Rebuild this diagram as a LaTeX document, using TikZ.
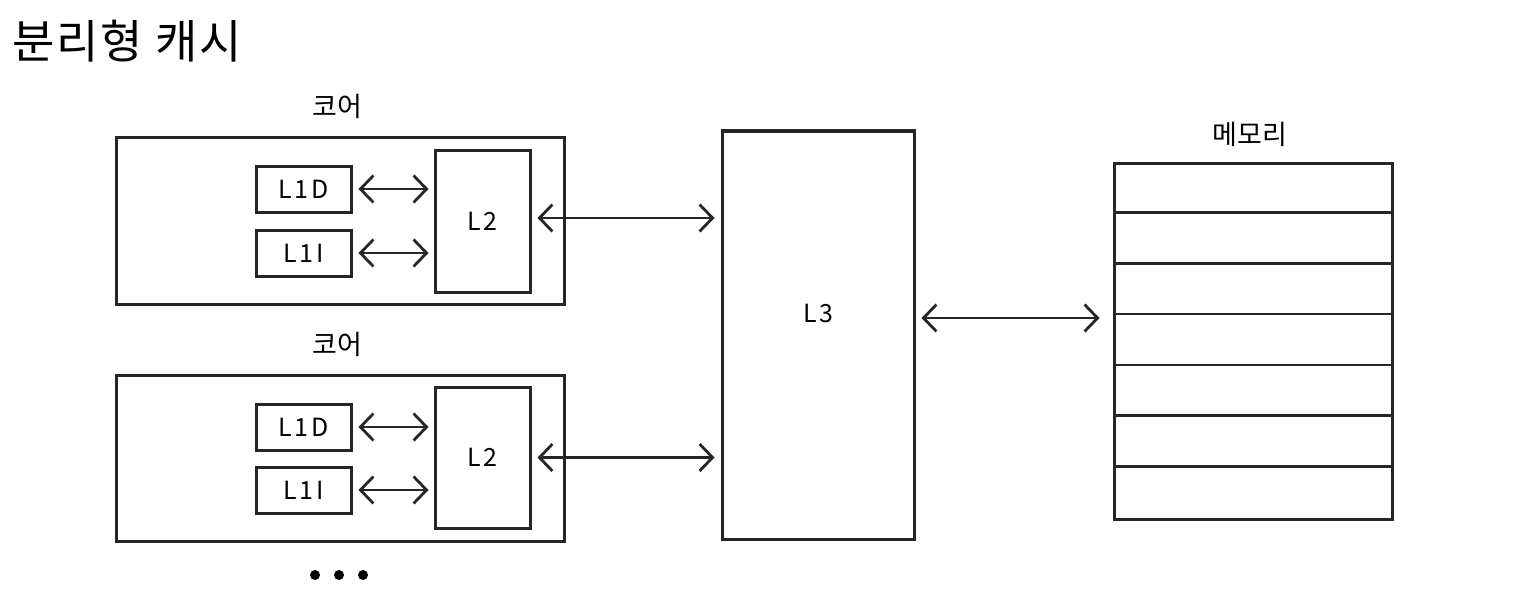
\documentclass[tikz,border=0pt]{standalone}
\usepackage{fontspec}
\setmainfont{Noto Sans CJK KR}
\usetikzlibrary{arrows.meta}
\tikzset{
  box/.style={draw=black!85, line width=3pt, inner sep=0pt, rectangle},
  lab/.style={font=\fontsize{25}{28}\selectfont\addfontfeatures{LetterSpace=10}},
  klab/.style={font=\fontsize{27}{30}\selectfont},
  biarrow/.style={draw=black!85, line width=2.8pt, {Straight Barb[length=13pt,width=27pt,line width=2.8pt]}-{Straight Barb[length=13pt,width=27pt,line width=2.8pt]}},
  dotmark/.style={fill=black, circle, inner sep=0pt, minimum size=10pt}
}
\begin{document}
\begin{tikzpicture}[x=1pt,y=-1pt]
\useasboundingbox (0,0) rectangle (1530,615);
\node[anchor=west, font=\fontsize{46}{50}\selectfont\addfontfeatures{LetterSpace=4}] (title) at (9,41) {분리형 캐시};
% core 1
\node[klab] (c1lab) at (337,106) {코어};
\node[box, minimum width=448pt, minimum height=167pt] (core1) at (340,220.5) {};
\node[box, lab, minimum width=95pt, minimum height=46pt] (l1d1) at (303.5,189) {L1D};
\node[box, lab, minimum width=95pt, minimum height=46pt] (l1i1) at (303.5,253) {L1I};
\node[box, lab, minimum width=95pt, minimum height=142pt] (l2a) at (482.5,221) {L2};
% core 2
\node[klab] (c2lab) at (337,344) {코어};
\node[box, minimum width=448pt, minimum height=166pt] (core2) at (340,458) {};
\node[box, lab, minimum width=95pt, minimum height=46pt] (l1d2) at (303.5,427) {L1D};
\node[box, lab, minimum width=95pt, minimum height=46pt] (l1i2) at (303.5,490) {L1I};
\node[box, lab, minimum width=95pt, minimum height=141pt] (l2b) at (482.5,457.5) {L2};
% L3
\node[box, minimum width=192pt, minimum height=408pt] (l3) at (818,335) {};
\node[lab] (l3lab) at (818,313) {L3};
% memory
\node[klab] (memlab) at (1250,134) {메모리};
\node[box, minimum width=278pt, minimum height=356pt] (mem) at (1253,341) {};
\foreach \i in {1,...,6} {
  \draw[draw=black!85, line width=2.8pt] ([yshift=-\i*50.86pt]mem.north west) -- ([yshift=-\i*50.86pt]mem.north east);
}
% arrows
\draw[biarrow, shorten <=6pt, shorten >=5pt] (l1d1.east) -- (l1d1.east -| l2a.west);
\draw[biarrow, shorten <=6pt, shorten >=5pt] (l1i1.east) -- (l1i1.east -| l2a.west);
\draw[biarrow, shorten <=6pt, shorten >=5pt] (l1d2.east) -- (l1d2.east -| l2b.west);
\draw[biarrow, shorten <=6pt, shorten >=5pt] (l1i2.east) -- (l1i2.east -| l2b.west);
\draw[biarrow, shorten <=6pt, shorten >=6pt] ([yshift=3pt]l2a.east) -- ([yshift=3pt]l2a.east -| l3.west);
\draw[biarrow, shorten <=6pt, shorten >=6pt] (l2b.east) -- (l2b.east -| l3.west);
\coordinate (m) at (920,318);
\draw[biarrow, shorten <=6pt, shorten >=13pt] (m -| l3.east) -- (m -| mem.west);
% dots
\node[dotmark] (d1) at (315,575) {};
\node[dotmark] (d2) at (339,575) {};
\node[dotmark] (d3) at (363,575) {};
\end{tikzpicture}
\end{document}
